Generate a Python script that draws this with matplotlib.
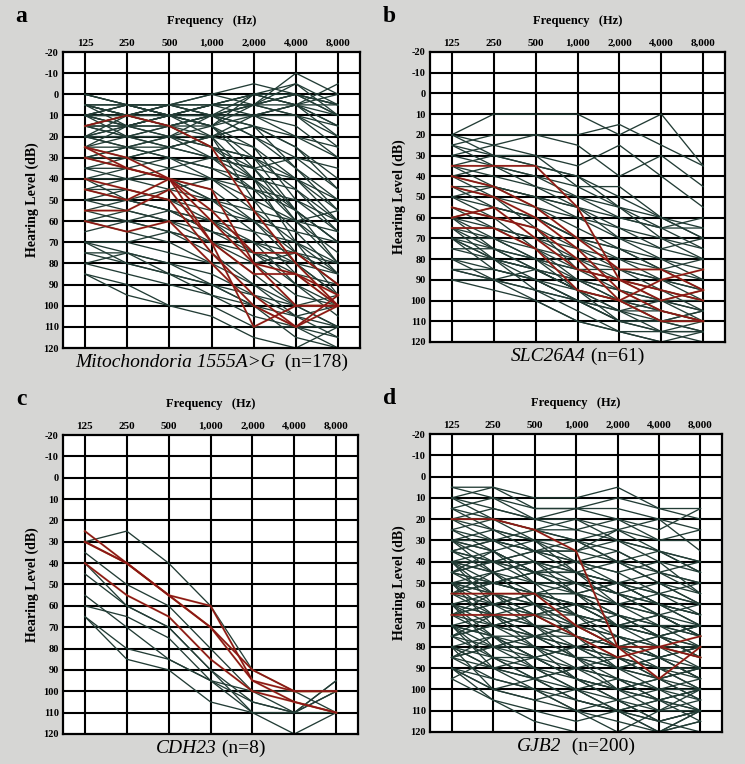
import matplotlib
matplotlib.use("Agg")
import matplotlib.pyplot as plt
from matplotlib.offsetbox import TextArea, HPacker, AnnotationBbox

plt.rcParams["font.family"] = ["Liberation Serif", "DejaVu Serif"]

freqs = ["125", "250", "500", "1,000", "2,000", "4,000", "8,000"]
levels = list(range(-20, 121, 10))

# panel a: Mitochondria 1555A>G
a_green = [
    [5, 5, 10, 5, 0, 0, 5], [10, 5, 5, 0, 5, 0, 10], [0, 5, 10, 5, 5, 10, 15],
    [15, 10, 5, 5, 0, 5, 0], [5, 15, 10, 5, 5, -10, 0], [10, 10, 10, 10, 5, 5, 15],
    [5, 10, 5, 0, -5, 0, 5], [15, 15, 10, 10, 10, 10, 20], [10, 5, 10, 15, 0, -5, 10],
    [20, 15, 10, 5, 10, 5, 5], [5, 10, 15, 10, 5, -5, 5], [0, 5, 5, 5, 0, 5, -5],
    [10, 15, 20, 15, 10, 15, 30], [20, 15, 15, 10, 15, 25, 45], [15, 10, 10, 15, 30, 45, 65],
    [10, 5, 10, 15, 35, 60, 80], [5, 10, 10, 20, 40, 70, 95], [10, 15, 15, 20, 50, 75, 90],
    [20, 20, 15, 25, 30, 55, 70], [15, 20, 25, 20, 25, 40, 55], [25, 20, 20, 25, 40, 60, 75],
    [25, 30, 35, 40, 50, 60, 55], [30, 25, 30, 35, 45, 50, 65], [35, 35, 30, 40, 55, 70, 85],
    [30, 35, 40, 50, 65, 85, 100], [40, 35, 40, 45, 60, 80, 95], [45, 40, 45, 50, 55, 60, 65],
    [50, 45, 50, 55, 60, 75, 85], [45, 50, 55, 60, 70, 90, 105], [55, 50, 55, 65, 75, 85, 90],
    [60, 55, 60, 70, 85, 100, 110], [55, 60, 55, 60, 65, 70, 80], [65, 60, 65, 70, 80, 95, 100],
    [70, 70, 75, 80, 90, 100, 110], [70, 75, 80, 85, 95, 105, 115], [75, 75, 80, 90, 100, 110, 120],
    [80, 85, 90, 95, 105, 110, 115], [85, 90, 100, 105, 115, 120, 110], [70, 80, 85, 90, 100, 105, 100],
    [85, 95, 100, 100, 110, 110, 110], [60, 65, 70, 80, 80, 75, 90], [40, 50, 55, 65, 70, 80, 95],
    [20, 25, 30, 35, 40, 55, 70], [30, 30, 25, 30, 35, 40, 50], [35, 40, 40, 50, 60, 65, 70],
    [50, 55, 60, 65, 70, 75, 80], [15, 20, 20, 30, 45, 65, 85], [5, 5, 10, 10, 20, 30, 35],
    [0, 5, 5, 10, 10, 20, 25], [25, 25, 20, 20, 15, 20, 30], [70, 70, 65, 70, 75, 80, 85],
    [10, 10, 15, 25, 30, 40, 60], [45, 45, 50, 60, 75, 90, 100], [60, 60, 65, 75, 90, 105, 110],
    [20, 25, 25, 20, 10, 5, 15], [35, 30, 25, 20, 15, 25, 40], [75, 80, 85, 90, 95, 100, 95],
    [80, 75, 85, 95, 100, 115, 120],
    [10, 15, 10, 5, 5, 0, 10], [15, 10, 15, 10, 5, 0, 5], [5, 10, 5, 10, 10, 5, 20],
    [20, 10, 15, 10, 0, 5, 10], [10, 20, 15, 15, 5, 10, 25], [15, 15, 20, 10, 20, 35, 50],
    [25, 15, 10, 15, 25, 50, 60], [20, 20, 25, 30, 35, 30, 45], [10, 10, 5, 10, 15, 35, 55],
    [30, 25, 20, 25, 35, 55, 80], [40, 40, 35, 30, 40, 45, 60], [50, 50, 45, 40, 45, 55, 70],
]
a_red = [
    [15, 10, 15, 25, 55, 80, 100], [25, 30, 40, 45, 80, 100, 100], [30, 35, 40, 70, 85, 85, 95],
    [45, 50, 40, 60, 80, 85, 100], [40, 45, 50, 75, 95, 110, 95], [55, 55, 45, 70, 110, 100, 100],
    [60, 65, 60, 80, 100, 110, 100], [25, 35, 40, 55, 75, 75, 90],
]

# panel b: SLC26A4
b_green = [
    [20, 10, 10, 10, 20, 10, 35], [25, 20, 20, 20, 15, 25, 35], [20, 25, 20, 25, 40, 30, 45],
    [25, 30, 30, 35, 25, 40, 55], [30, 25, 30, 45, 45, 60, 70], [35, 30, 35, 40, 55, 60, 65],
    [35, 40, 45, 50, 60, 65, 75], [40, 35, 45, 55, 65, 70, 80], [40, 45, 50, 60, 65, 75, 70],
    [45, 50, 55, 60, 70, 80, 85], [50, 45, 55, 65, 75, 80, 90], [50, 55, 60, 70, 80, 90, 95],
    [55, 60, 65, 75, 85, 90, 100], [60, 55, 60, 70, 75, 85, 95], [60, 65, 70, 80, 85, 95, 105],
    [65, 65, 75, 85, 90, 100, 110], [65, 70, 80, 90, 95, 105, 110], [70, 75, 85, 90, 100, 110, 115],
    [70, 70, 80, 95, 105, 110, 115], [75, 80, 85, 95, 105, 115, 120], [75, 75, 80, 85, 90, 95, 100],
    [80, 85, 90, 100, 110, 115, 115], [80, 80, 85, 95, 100, 105, 110], [85, 90, 95, 105, 115, 120, 115],
    [85, 85, 90, 100, 110, 110, 110], [90, 95, 100, 110, 115, 120, 120], [70, 85, 90, 95, 110, 110, 105],
    [65, 75, 80, 85, 85, 90, 95], [60, 70, 75, 80, 90, 95, 100], [55, 65, 70, 75, 80, 85, 80],
    [45, 55, 60, 70, 75, 85, 90], [35, 45, 50, 55, 70, 75, 80], [30, 35, 40, 50, 55, 65, 65],
    [25, 35, 40, 45, 55, 70, 75], [20, 30, 35, 40, 50, 60, 70], [40, 50, 65, 85, 95, 100, 105],
    [50, 60, 75, 90, 100, 105, 110], [60, 75, 85, 95, 100, 110, 105], [70, 80, 90, 100, 105, 100, 100],
    [45, 45, 50, 55, 60, 65, 60], [80, 90, 95, 100, 105, 105, 110], [90, 90, 100, 110, 115, 115, 115],
    [85, 90, 85, 95, 100, 100, 105], [70, 80, 85, 90, 95, 100, 95], [65, 80, 95, 100, 110, 115, 110],
]
b_red = [
    [35, 35, 35, 55, 90, 95, 100], [45, 50, 60, 75, 95, 105, 110], [55, 60, 65, 80, 100, 110, 110],
    [60, 55, 70, 85, 90, 100, 95], [65, 65, 75, 95, 100, 90, 85], [40, 45, 55, 70, 85, 85, 95],
]

# panel c: CDH23
c_green = [
    [30, 25, 40, 60, 90, 100, 100], [35, 50, 60, 80, 100, 110, 100], [45, 60, 70, 90, 105, 110, 95],
    [55, 70, 85, 95, 105, 110, 110], [60, 65, 75, 95, 100, 100, 110], [65, 85, 90, 105, 110, 120, 110],
    [40, 60, 70, 90, 110, 110, 100], [65, 80, 85, 95, 110, 110, 95],
]
c_red = [
    [25, 40, 55, 70, 95, 105, 110], [30, 40, 55, 70, 90, 100, 100], [30, 40, 55, 60, 95, 100, 100],
    [40, 55, 65, 85, 100, 105, 110],
]

# panel d: GJB2
d_green = [
    [5, 5, 10, 10, 5, 15, 15], [10, 5, 15, 15, 10, 15, 20], [15, 10, 20, 15, 20, 25, 15],
    [20, 15, 20, 25, 20, 30, 25], [10, 20, 25, 20, 25, 20, 35], [25, 20, 25, 30, 25, 35, 40],
    [30, 25, 30, 35, 30, 40, 45], [30, 35, 30, 40, 35, 45, 50], [35, 30, 35, 40, 45, 40, 55],
    [35, 40, 40, 45, 50, 55, 60], [40, 35, 45, 45, 50, 60, 65], [40, 45, 40, 50, 55, 60, 65],
    [45, 40, 50, 50, 55, 65, 70], [45, 50, 45, 55, 60, 65, 75], [50, 45, 50, 55, 65, 70, 70],
    [50, 55, 55, 60, 65, 75, 80], [55, 50, 55, 60, 70, 70, 75], [60, 55, 60, 65, 70, 75, 80],
    [60, 65, 60, 70, 75, 80, 85], [65, 60, 70, 70, 80, 80, 85], [70, 65, 70, 75, 80, 85, 90],
    [70, 75, 75, 80, 85, 90, 95], [75, 70, 80, 85, 85, 90, 100], [75, 80, 80, 85, 90, 95, 100],
    [80, 75, 85, 90, 95, 100, 105], [80, 85, 85, 95, 100, 105, 110], [85, 80, 90, 95, 100, 110, 105],
    [85, 90, 95, 100, 105, 110, 110], [90, 95, 100, 105, 110, 115, 110], [90, 100, 105, 110, 115, 120, 115],
    [80, 90, 100, 110, 120, 110, 100], [70, 85, 95, 105, 110, 120, 110], [60, 75, 90, 100, 110, 105, 100],
    [50, 65, 80, 95, 105, 100, 95], [40, 55, 70, 85, 100, 95, 90], [30, 45, 60, 75, 90, 85, 80],
    [25, 35, 50, 65, 80, 75, 70], [20, 30, 40, 55, 70, 65, 60], [15, 25, 30, 45, 60, 55, 50],
    [30, 40, 35, 30, 40, 50, 55], [40, 50, 45, 40, 45, 55, 60], [50, 60, 55, 50, 55, 60, 65],
    [60, 70, 65, 60, 65, 70, 75], [70, 80, 75, 70, 75, 80, 80], [80, 90, 85, 80, 85, 90, 90],
    [90, 100, 95, 90, 95, 100, 100], [35, 30, 25, 25, 30, 35, 45], [45, 40, 35, 35, 40, 45, 55],
    [55, 50, 45, 45, 50, 55, 65], [65, 60, 55, 55, 60, 65, 75], [75, 70, 65, 65, 70, 75, 85],
    [85, 80, 75, 75, 80, 85, 95], [20, 25, 35, 45, 55, 65, 75], [30, 35, 45, 55, 65, 75, 85],
    [40, 45, 55, 65, 75, 85, 95], [50, 55, 65, 75, 85, 95, 105], [60, 65, 75, 85, 95, 105, 110],
    [70, 75, 85, 95, 105, 115, 120], [15, 20, 25, 30, 40, 50, 60], [25, 30, 35, 40, 50, 60, 70],
    [35, 40, 45, 50, 60, 70, 80], [45, 50, 55, 60, 70, 80, 90], [55, 60, 65, 70, 80, 90, 100],
    [65, 70, 75, 80, 90, 100, 110], [5, 10, 15, 15, 15, 20, 25], [10, 15, 20, 20, 30, 35, 45],
    [20, 20, 30, 30, 35, 45, 40], [45, 55, 60, 70, 65, 75, 70], [55, 65, 70, 80, 75, 85, 80],
    [65, 75, 80, 90, 85, 95, 90], [75, 85, 90, 100, 95, 105, 100], [85, 95, 100, 110, 105, 115, 110],
    [95, 105, 110, 115, 110, 120, 110], [90, 105, 115, 120, 120, 120, 115], [30, 30, 35, 35, 25, 30, 30],
    [40, 40, 45, 45, 40, 35, 40], [50, 50, 55, 55, 50, 45, 50],
    [35, 45, 40, 45, 55, 50, 60], [45, 35, 45, 55, 50, 60, 70], [55, 45, 60, 65, 70, 65, 75],
    [65, 55, 65, 75, 80, 75, 85], [75, 65, 75, 85, 90, 85, 95], [85, 75, 85, 95, 100, 95, 105],
    [95, 85, 95, 105, 110, 105, 115], [40, 60, 65, 60, 70, 75, 70], [50, 70, 75, 70, 80, 85, 80],
    [60, 80, 85, 80, 90, 95, 90], [70, 90, 95, 90, 100, 105, 100], [80, 100, 105, 100, 110, 115, 110],
]
d_red = [
    [20, 20, 25, 35, 80, 80, 75], [55, 55, 55, 70, 80, 95, 80], [65, 65, 65, 75, 85, 80, 85],
]

panels = [
    ("a", "Mitochondoria 1555A>G", "  (n=178)", a_green, a_red, [0.0846, 0.5445, 0.3987, 0.3874]),
    ("b", "SLC26A4", " (n=61)", b_green, b_red, [0.5772, 0.5524, 0.3960, 0.3796]),
    ("c", "CDH23", " (n=8)", c_green, c_red, [0.0846, 0.0393, 0.3960, 0.3913]),
    ("d", "GJB2", "  (n=200)", d_green, d_red, [0.5772, 0.0419, 0.3920, 0.3900]),
]

GREEN = "#223c35"
RED = "#8c1616"

fig = plt.figure(figsize=(7.45, 7.64), dpi=100, facecolor="#d6d6d4")

for letter, gene, count, greens, reds, pos in panels:
    ax = fig.add_axes(pos)
    ax.set_facecolor("white")
    x = list(range(len(freqs)))
    for y in greens:
        ax.plot(x, y, color=GREEN, lw=0.95, zorder=2)
    for y in reds:
        ax.plot(x, y, color="#c89a40", lw=1.7, zorder=3, alpha=0.35)
        ax.plot(x, y, color=RED, lw=1.2, zorder=4)
    for xi in x:
        ax.axvline(xi, color="black", lw=1.5, zorder=1)
    for lv in levels[1:-1]:
        ax.axhline(lv, color="black", lw=1.5, zorder=1)
    ax.set_xlim(-0.52, 6.52)
    ax.set_ylim(120, -20)
    ax.xaxis.tick_top()
    ax.set_xticks(x)
    ax.set_xticklabels(freqs, fontsize=8, fontweight="bold")
    ax.set_yticks(levels)
    ax.set_yticklabels([str(v) for v in levels], fontsize=7.5, fontweight="bold")
    ax.tick_params(length=0, pad=3)
    for s in ax.spines.values():
        s.set_linewidth(1.6)
    ax.set_ylabel("Hearing Level (dB)", fontsize=10, fontweight="bold", labelpad=3)
    ax.text(0.5, 1.085, "Frequency   (Hz)", transform=ax.transAxes, ha="center",
            va="bottom", fontsize=9, fontweight="bold")
    ax.text(-0.16, 1.085, letter, transform=ax.transAxes, ha="left", va="bottom",
            fontsize=17, fontweight="bold")
    cap = HPacker(children=[TextArea(gene, textprops=dict(fontsize=14, fontstyle="italic")),
                            TextArea(count, textprops=dict(fontsize=14))],
                  align="baseline", pad=0, sep=0)
    ab = AnnotationBbox(cap, (0.5, -0.02), xycoords="axes fraction",
                        box_alignment=(0.5, 1.0), frameon=False)
    ax.add_artist(ab)

fig.savefig("out.png", dpi=100, facecolor=fig.get_facecolor())
